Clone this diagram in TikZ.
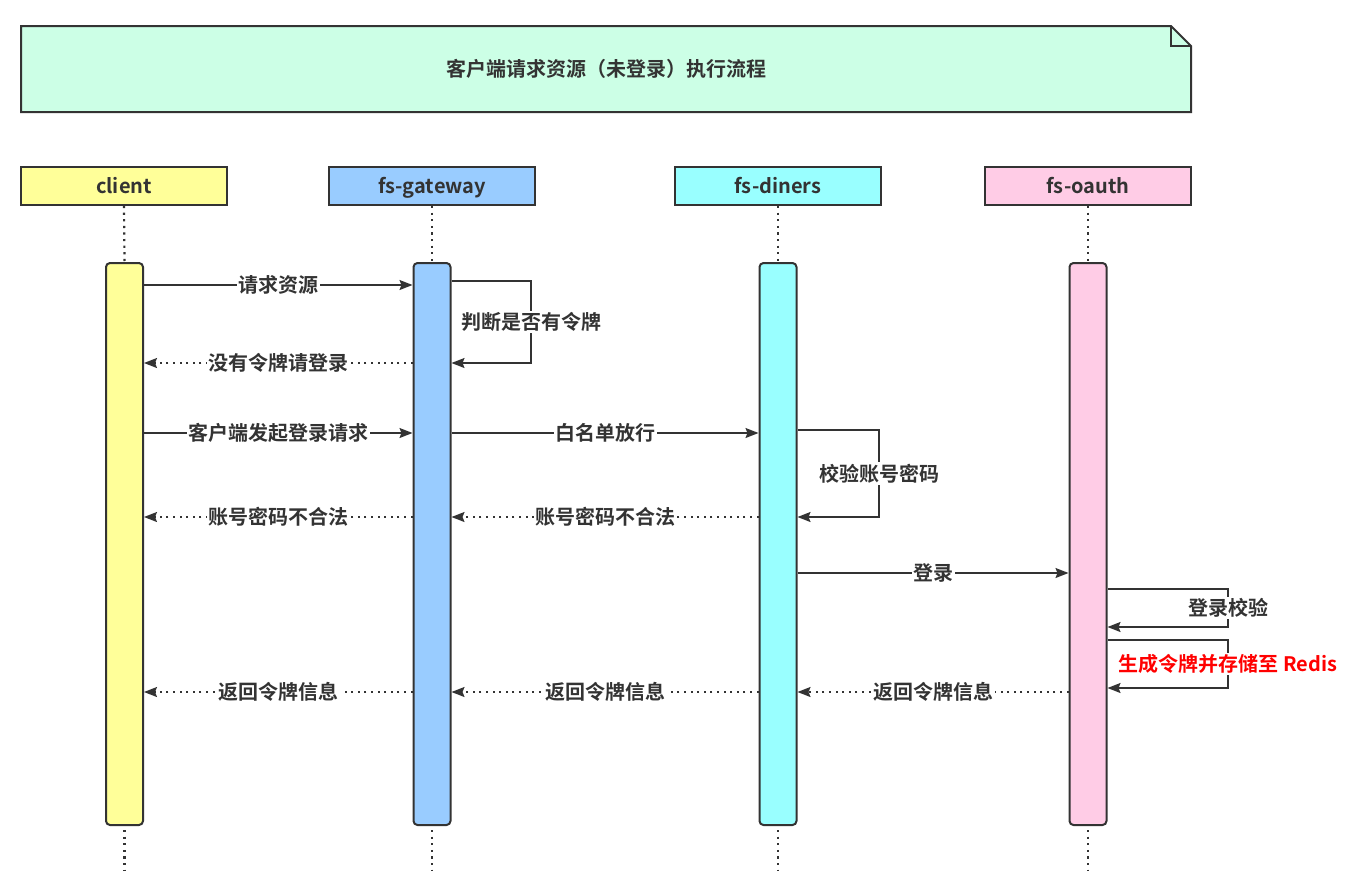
\documentclass[tikz,border=0pt]{standalone}
\usepackage{fontspec}
\setmainfont{Noto Sans CJK SC}[BoldFont={Noto Sans CJK SC Bold}]
\usetikzlibrary{arrows.meta}
\definecolor{ink}{HTML}{333333}
\definecolor{notefill}{HTML}{CCFFE6}
\definecolor{cfill}{HTML}{FFFF99}
\definecolor{gfill}{HTML}{99CCFF}
\definecolor{dfill}{HTML}{99FFFF}
\definecolor{ofill}{HTML}{FFCCE6}
\definecolor{alert}{HTML}{FF0000}
\begin{document}
\begin{tikzpicture}[x=1pt,y=-1pt,
  every node/.style={font=\bfseries\fontsize{20}{24}\selectfont, text=ink},
  head/.style={draw=ink, line width=2, minimum width=206, minimum height=38, inner sep=0, text height=16, text depth=2},
  bar/.style={draw=ink, line width=2, rounded corners=4, minimum width=37, minimum height=562, inner sep=0},
  life/.style={draw=ink, line width=2.2, dash pattern=on 2.2 off 4.4},
  msg/.style={draw=ink, line width=1.6, -{Stealth[length=13,width=10,inset=2]}},
  ret/.style={msg, dash pattern=on 2 off 4.6},
  lbl/.style={fill=white, inner sep=1.5}]
\useasboundingbox (0,0) rectangle (1353,887);
% title note
\filldraw[fill=notefill, draw=ink, line width=2] (21,26) -- (1171,26) -- (1191,46) -- (1191,112) -- (21,112) -- cycle;
\draw[ink, line width=2] (1171,26) -- (1171,46) -- (1191,46);
\node (title) at (606,69) {客户端请求资源（未登录）执行流程};
% headers
\node[head, fill=cfill] (client) at (124,186) {client};
\node[head, fill=gfill] (gw) at (432,186) {fs-gateway};
\node[head, fill=dfill] (din) at (778,186) {fs-diners};
\node[head, fill=ofill] (oa) at (1088,186) {fs-oauth};
% activation bars
\node[bar, fill=cfill] (cbar) at (124.5,544) {};
\node[bar, fill=gfill] (gbar) at (432,544) {};
\node[bar, fill=dfill] (dbar) at (778,544) {};
\node[bar, fill=ofill] (obar) at (1088,544) {};
% lifelines
\foreach \h/\b in {client/cbar, gw/gbar, din/dbar, oa/obar}{
  \draw[life] (\h.south) -- (\b.north);
  \coordinate (\b-end) at ([yshift=-45]\b.south);
  \draw[life] ([yshift=-4]\b.south) -- (\b-end);
}
% messages
\draw[msg] (cbar.east |- 0,285) -- node[lbl]{请求资源} (gbar.west |- 0,285);
\draw[msg] (gbar.east |- 0,281) -- (531,281) -- node[lbl]{判断是否有令牌} (531,363) -- (gbar.east |- 0,363);
\draw[ret] (gbar.west |- 0,363) -- node[lbl]{没有令牌请登录} (cbar.east |- 0,363);
\draw[msg] (cbar.east |- 0,433) -- node[lbl]{客户端发起登录请求} (gbar.west |- 0,433);
\draw[msg] (gbar.east |- 0,433) -- node[lbl]{白名单放行} (dbar.west |- 0,433);
\draw[msg] (dbar.east |- 0,430) -- (879,430) -- node[lbl]{校验账号密码} (879,517) -- (dbar.east |- 0,517);
\draw[ret] (dbar.west |- 0,517) -- node[lbl]{账号密码不合法} (gbar.east |- 0,517);
\draw[ret] (gbar.west |- 0,517) -- node[lbl]{账号密码不合法} (cbar.east |- 0,517);
\draw[msg] (dbar.east |- 0,573) -- node[lbl]{登录} (obar.west |- 0,573);
\draw[msg] (obar.east |- 0,589) -- (1228,589) -- node[lbl]{登录校验} (1228,627) -- (obar.east |- 0,627);
\draw[msg] (obar.east |- 0,640) -- (1228,640) -- node[lbl, text=alert]{生成令牌并存储至 Redis} (1228,688) -- (obar.east |- 0,688);
\draw[ret] (obar.west |- 0,692) -- node[lbl]{返回令牌信息} (dbar.east |- 0,692);
\draw[ret] (dbar.west |- 0,692) -- node[lbl]{返回令牌信息} (gbar.east |- 0,692);
\draw[ret] (gbar.west |- 0,692) -- node[lbl]{返回令牌信息} (cbar.east |- 0,692);
\end{tikzpicture}
\end{document}
